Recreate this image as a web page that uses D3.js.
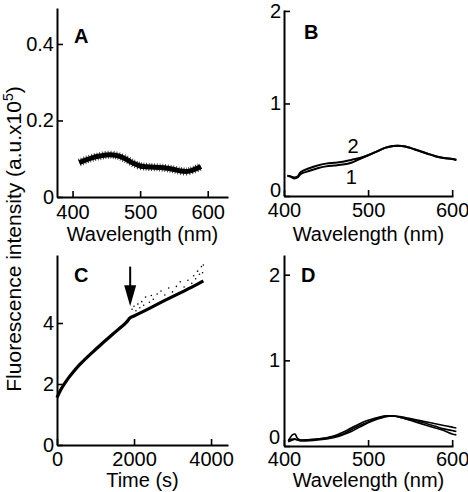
<!DOCTYPE html>
<html>
<head>
<meta charset="utf-8">
<script src="https://cdn.jsdelivr.net/npm/d3@7"></script>
<style>
  html, body { margin: 0; padding: 0; background: #fff; }
  svg { display: block; font-family: "Liberation Sans", Arial, Helvetica, sans-serif; }
</style>
</head>
<body>
<svg id="chart" width="468" height="492"></svg>
<script>
// ---------- DATA ----------
// Panel A
const aWave = [410, 420, 430, 440, 450, 460, 470, 480, 490, 500, 510, 520, 530, 540, 550, 560, 570, 580, 590];
const aIntensity = [0.090, 0.097, 0.103, 0.107, 0.110, 0.110, 0.106, 0.098, 0.088, 0.081, 0.079, 0.078, 0.077, 0.075, 0.072, 0.068, 0.067, 0.072, 0.080];
const aXTicks = [400, 500, 600];
const aYTicks = [0, 0.2, 0.4];

// Panel B
const bWave = [404, 408, 412, 416, 420, 430, 440, 450, 460, 470, 480, 490, 500, 510, 520, 530, 540, 550, 560, 570, 580, 590, 600, 605];
const bCurve1 = [0.22, 0.21, 0.19, 0.20, 0.24, 0.27, 0.30, 0.32, 0.33, 0.34, 0.36, 0.40, 0.44, 0.48, 0.52, 0.54, 0.54, 0.52, 0.49, 0.46, 0.43, 0.41, 0.40, 0.39];
const bCurve2 = [0.22, 0.21, 0.20, 0.21, 0.26, 0.30, 0.33, 0.35, 0.36, 0.37, 0.39, 0.41, 0.44, 0.48, 0.52, 0.54, 0.54, 0.52, 0.49, 0.46, 0.43, 0.41, 0.40, 0.39];
const bLabels = ["1", "2"];
const bXTicks = [400, 500, 600];
const bYTicks = [0, 1, 2];

// Panel C
const cTime = [0, 100, 200, 300, 400, 600, 800, 1000, 1200, 1400, 1600, 1800, 1900, 2000, 2400, 2800, 3200, 3600, 3800];
const cIntensity = [1.55, 1.82, 2.02, 2.20, 2.36, 2.65, 2.90, 3.13, 3.36, 3.58, 3.80, 4.02, 4.17, 4.23, 4.48, 4.74, 4.99, 5.24, 5.38];
const cDotTime = [1950, 2000, 2050, 2100, 2150, 2200, 2250, 2300, 2400, 2450, 2500, 2600, 2700, 2800, 2900, 3000, 3100, 3200, 3300, 3400, 3500, 3550, 3600, 3650, 3700, 3750, 3780, 3800];
const cDotValue = [4.45, 4.55, 4.40, 4.62, 4.50, 4.70, 4.58, 4.85, 4.68, 4.90, 4.78, 4.95, 5.05, 4.92, 5.15, 5.02, 5.20, 5.35, 5.18, 5.40, 5.30, 5.55, 5.45, 5.70, 5.60, 5.85, 5.65, 5.90];
const cArrowTime = 1900;
const cXTicks = [0, 2000, 4000];
const cYTicks = [0, 2, 4];

// Panel D
const dWave = [405, 410, 413, 416, 420, 440, 460, 470, 480, 490, 500, 510, 520, 530, 540, 550, 560, 570, 580, 590, 600, 605];
const dCurve1 = [0.06, 0.13, 0.14, 0.09, 0.07, 0.08, 0.11, 0.14, 0.19, 0.24, 0.28, 0.32, 0.35, 0.35, 0.34, 0.32, 0.30, 0.28, 0.26, 0.24, 0.22, 0.21];
const dCurve2 = [0.05, 0.07, 0.08, 0.07, 0.06, 0.07, 0.10, 0.13, 0.17, 0.22, 0.27, 0.31, 0.34, 0.35, 0.33, 0.31, 0.29, 0.26, 0.23, 0.20, 0.18, 0.17];
const dCurve3 = [0.07, 0.08, 0.08, 0.07, 0.07, 0.08, 0.12, 0.16, 0.21, 0.26, 0.30, 0.33, 0.35, 0.35, 0.33, 0.30, 0.27, 0.24, 0.21, 0.18, 0.14, 0.13];
const dXTicks = [400, 500, 600];
const dYTicks = [0, 1, 2];

const panelLetters = ["A", "B", "C", "D"];
const xTitleWave = "Wavelength (nm)";
const xTitleTime = "Time (s)";

// ---------- DRAW ----------
const svg = d3.select("#chart");
const FS = 20;

function fmt(v) { return v === 0 ? "0" : String(v); }

function panel(opts) {
  const x = d3.scaleLinear().domain(opts.xDomain).range(opts.xRange);
  const y = d3.scaleLinear().domain(opts.yDomain).range(opts.yRange);
  const g = svg.append("g");

  const xAxis = d3.axisBottom(x).tickValues(opts.xTicks).tickFormat(fmt)
    .tickSizeInner(-6).tickSizeOuter(0).tickPadding(opts.xPad);
  const yAxis = d3.axisLeft(y).tickValues(opts.yTicks).tickFormat(fmt)
    .tickSizeInner(-6).tickSizeOuter(0).tickPadding(opts.yPad);

  const gx = g.append("g").attr("transform", `translate(0,${opts.yRange[0]})`).call(xAxis);
  const gy = g.append("g").attr("transform", `translate(${opts.xRange[0]},0)`).call(yAxis);
  [gx, gy].forEach(a => {
    a.selectAll("path.domain").attr("stroke", "#000").attr("stroke-width", 2);
    a.selectAll(".tick line").attr("stroke", "#000").attr("stroke-width", 1.6);
    a.selectAll(".tick text").attr("fill", "#000").style("font-size", FS + "px")
      .style("font-family", "'Liberation Sans', Arial, sans-serif");
  });
  gy.selectAll(".tick text").filter(d => d === 0).attr("y", -opts.zeroLift);

  g.append("text")
    .attr("x", (opts.xRange[0] + opts.xRange[1]) / 2)
    .attr("y", opts.titleY)
    .attr("text-anchor", "middle")
    .style("font-size", FS + "px")
    .text(opts.xTitle);

  g.append("text")
    .attr("x", opts.letterX).attr("y", opts.letterY)
    .style("font-size", FS + "px").style("font-weight", "bold")
    .text(opts.letter);

  return { g, x, y };
}

// Panel A
{
  const p = panel({
    xDomain: [377, 630], xRange: [57, 228],
    yDomain: [0, 0.494], yRange: [197, 8],
    xTicks: aXTicks, yTicks: aYTicks, xPad: 8, yPad: 3, zeroLift: 0,
    xTitle: xTitleWave, titleY: 241, letter: panelLetters[0], letterX: 74, letterY: 43
  });
  const line = d3.line().x((d, i) => p.x(aWave[i])).y(d => p.y(d)).curve(d3.curveCatmullRom);
  p.g.append("path").datum(aIntensity).attr("d", line)
    .attr("fill", "none").attr("stroke", "#000").attr("stroke-width", 5);
  p.g.append("path").datum(aIntensity).attr("d", line)
    .attr("fill", "none").attr("stroke", "#000").attr("stroke-width", 8)
    .attr("stroke-dasharray", "0.8 1.9").attr("opacity", 0.85);
}

// Panel B
{
  const p = panel({
    xDomain: [400, 601], xRange: [284, 453],
    yDomain: [0, 2.01], yRange: [196, 10],
    xTicks: bXTicks, yTicks: bYTicks, xPad: 7, yPad: 3, zeroLift: 6,
    xTitle: xTitleWave, titleY: 241, letter: panelLetters[1], letterX: 304, letterY: 39
  });
  const mk = arr => d3.line().x((d, i) => p.x(bWave[i])).y(d => p.y(d)).curve(d3.curveCatmullRom)(arr);
  [bCurve1, bCurve2].forEach(c => {
    p.g.append("path").attr("d", mk(c)).attr("fill", "none")
      .attr("stroke", "#000").attr("stroke-width", 2);
  });
  p.g.append("text").attr("x", p.x(480)).attr("y", p.y(bCurve1[10]) + 21)
    .attr("text-anchor", "middle").style("font-size", FS + "px").text(bLabels[0]);
  p.g.append("text").attr("x", p.x(482)).attr("y", p.y(bCurve2[10]) - 7)
    .attr("text-anchor", "middle").style("font-size", FS + "px").text(bLabels[1]);
}

// Panel C
{
  const p = panel({
    xDomain: [0, 4440], xRange: [57, 228],
    yDomain: [0, 6.23], yRange: [445, 255],
    xTicks: cXTicks, yTicks: cYTicks, xPad: 7, yPad: 3, zeroLift: 0,
    xTitle: xTitleTime, titleY: 487, letter: panelLetters[2], letterX: 74, letterY: 282
  });
  const line = d3.line().x((d, i) => p.x(cTime[i])).y(d => p.y(d)).curve(d3.curveMonotoneX);
  p.g.append("path").datum(cIntensity).attr("d", line)
    .attr("fill", "none").attr("stroke", "#000").attr("stroke-width", 3.2);
  p.g.selectAll("circle.dot").data(cDotValue).enter().append("circle")
    .attr("cx", (d, i) => p.x(cDotTime[i])).attr("cy", d => p.y(d))
    .attr("r", 0.8).attr("fill", "#000");
  const ax = p.x(cArrowTime);
  const tipY = p.y(4.55);
  p.g.append("line").attr("x1", ax).attr("x2", ax).attr("y1", p.y(5.85)).attr("y2", tipY - 16)
    .attr("stroke", "#000").attr("stroke-width", 2);
  p.g.append("path")
    .attr("d", `M${ax - 6},${tipY - 21} L${ax + 6},${tipY - 21} L${ax},${tipY} Z`)
    .attr("fill", "#000");
}

// Panel D
{
  const p = panel({
    xDomain: [400, 601], xRange: [284, 453],
    yDomain: [0, 2.23], yRange: [446, 255],
    xTicks: dXTicks, yTicks: dYTicks, xPad: 6, yPad: 4, zeroLift: 9,
    xTitle: xTitleWave, titleY: 487, letter: panelLetters[3], letterX: 301, letterY: 282
  });
  const mk = arr => d3.line().x((d, i) => p.x(dWave[i])).y(d => p.y(d)).curve(d3.curveCatmullRom)(arr);
  [dCurve1, dCurve2, dCurve3].forEach(c => {
    p.g.append("path").attr("d", mk(c)).attr("fill", "none")
      .attr("stroke", "#000").attr("stroke-width", 1.6);
  });
}

// Shared y-axis title
svg.append("text")
  .attr("transform", "translate(21,239) rotate(-90)")
  .attr("text-anchor", "middle")
  .style("font-size", "21px")
  .call(t => {
    t.append("tspan").text("Fluorescence intensity (a.u.x10");
    t.append("tspan").attr("dy", -8).style("font-size", "14px").text("5");
    t.append("tspan").attr("dy", 8).text(")");
  });
</script>
</body>
</html>
